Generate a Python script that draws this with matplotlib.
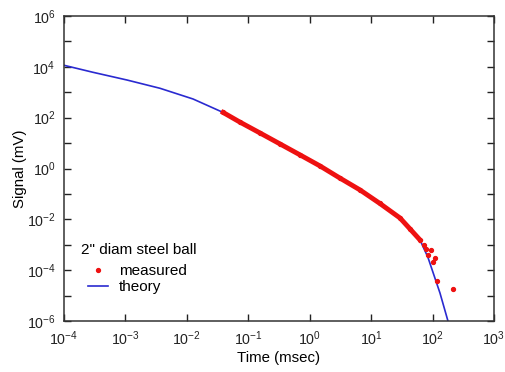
import numpy as np
import matplotlib.pyplot as plt
from matplotlib.lines import Line2D
from matplotlib.ticker import FixedLocator, FuncFormatter, NullLocator

plt.rcParams['font.family'] = ['Liberation Sans', 'DejaVu Sans']

# measured signal
t_meas = [0.039, 0.073, 0.155, 0.33, 0.70, 1.47, 3.1, 6.6, 13.9, 29.5,
          42.9, 62.4, 72.5, 78, 84, 95, 102, 110, 118, 215]
s_meas = [160, 67, 25, 9.2, 3.4, 1.26, 0.42, 0.143, 0.042, 0.0113,
          0.0042, 0.00155, 9.8e-4, 7e-4, 4e-4, 6e-4, 2.1e-4, 3e-4, 3.8e-5, 1.8e-5]

# theory curve
t_theory = [1e-4, 2.96e-4, 1.06e-3, 3.66e-3, 0.0126, 0.039, 0.155, 0.70, 3.1,
            13.9, 29.5, 42.9, 62.4, 84, 132, 178, 200]
s_theory = [11500, 6100, 3030, 1430, 543, 160, 25, 3.4, 0.42,
            0.042, 0.0113, 0.0042, 0.00155, 3.2e-4, 1.26e-5, 1e-6, 1e-7]

fig = plt.figure(figsize=(5.06, 3.72), dpi=100)
ax = fig.add_axes([64/506, 1 - 321/372, 430/506, 305/372])

ax.plot(t_theory, s_theory, color='#2a2ad0', lw=1.2, zorder=2)
ax.plot(t_meas[:12], s_meas[:12], color='#ee1111', lw=3.5, zorder=3)
ax.plot(t_meas, s_meas, 'o', color='#ee1111', ms=2.8, zorder=3)

ax.set_xscale('log')
ax.set_yscale('log')
ax.set_xlim(1e-4, 1e3)
ax.set_ylim(1e-6, 1e6)

def pow_label(v, pos):
    e = int(round(np.log10(v)))
    return r'$\mathregular{10^{%d}}$' % e

def pow_label_even(v, pos):
    e = int(round(np.log10(v)))
    if e % 2:
        return ''
    return r'$\mathregular{10^{%d}}$' % e

ax.xaxis.set_major_locator(FixedLocator([10.0**k for k in range(-4, 4)]))
ax.yaxis.set_major_locator(FixedLocator([10.0**k for k in range(-6, 7)]))
ax.xaxis.set_minor_locator(NullLocator())
ax.yaxis.set_minor_locator(NullLocator())
ax.xaxis.set_major_formatter(FuncFormatter(pow_label))
ax.yaxis.set_major_formatter(FuncFormatter(pow_label_even))
ax.tick_params(which='both', direction='in', top=True, right=True,
               length=5, width=1, labelsize=10.3, pad=6, colors='#222222')
for sp in ax.spines.values():
    sp.set_linewidth(1.1)
    sp.set_color('#333333')

ax.set_xlabel('Time (msec)', fontsize=10.8, labelpad=2)
ax.set_ylabel('Signal (mV)', fontsize=10.8, labelpad=0)

ax.text((81 - 64) / 430, (321 - 250) / 305, '2" diam steel ball',
        transform=ax.transAxes, fontsize=11, va='center', ha='left')
handles = [Line2D([], [], marker='o', ls='none', color='#ee1111', ms=2.8),
           Line2D([], [], color='#2a2ad0', lw=1.2)]
ax.legend(handles, ['measured', 'theory'], loc='lower left',
          bbox_to_anchor=((88 - 64) / 430, (321 - 294) / 305),
          borderaxespad=0, borderpad=0, frameon=False,
          fontsize=11, handlelength=1.3, handletextpad=0.7,
          labelspacing=0.12)

fig.savefig('out.png', dpi=100)
